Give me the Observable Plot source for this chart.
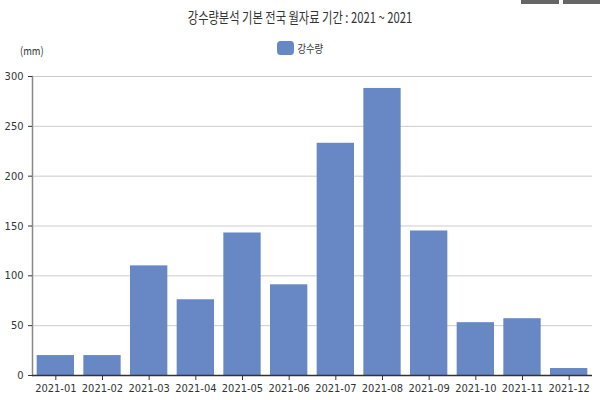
<!DOCTYPE html>
<html><head><meta charset="utf-8">
<script src="https://cdn.jsdelivr.net/npm/d3@7"></script>
<script src="https://cdn.jsdelivr.net/npm/@observablehq/plot@0.6"></script>
<style>
body{margin:0;background:#fff;}
#wrap{position:relative;width:600px;height:400px;overflow:hidden;font-family:"Noto Sans CJK KR",sans-serif;}
#title{position:absolute;top:6px;left:0;width:600px;text-align:center;font-size:15px;color:#333;transform:scaleX(0.75);}
#legend{position:absolute;top:40px;left:277px;font-size:11px;color:#333;display:flex;align-items:center;transform:scaleX(0.85);transform-origin:left;}
#legend span.sw{display:inline-block;width:20px;height:14px;border-radius:4px;background:#6788c4;margin-right:4px;}
#unit{position:absolute;top:42px;left:20px;font-size:11px;color:#333;transform:scaleX(0.85);transform-origin:left;}
.btn{position:absolute;top:-2px;height:6px;background:#666;}
</style></head>
<body><div id="wrap">
<div id="title">강수량분석 기본 전국 월자료 기간 : 2021 ~ 2021</div>
<div id="legend"><span class="sw"></span>강수량</div>
<div id="unit">(mm)</div>
<div class="btn" style="left:521px;width:38px"></div>
<div class="btn" style="left:563px;width:40px"></div>
</div>
<script>
const months = ["2021-01","2021-02","2021-03","2021-04","2021-05","2021-06","2021-07","2021-08","2021-09","2021-10","2021-11","2021-12"];
const rainfall = [20, 20, 110, 76, 143, 91, 233, 288, 145, 53, 57, 7];
const yTicks = [0, 50, 100, 150, 200, 250, 300];
const data = months.map((m, i) => ({month: m, value: rainfall[i]}));

const chart = Plot.plot({
  width: 600, height: 400,
  marginLeft: 32, marginRight: 8, marginTop: 76, marginBottom: 25,
  style: {fontFamily: '"Liberation Sans Narrow","DejaVu Sans Condensed",sans-serif', fontSize: "11px", color: "#333", background: "transparent"},
  x: {domain: months, paddingInner: 0.2, paddingOuter: 0.1, round: false, label: null, tickSize: 5},
  y: {domain: [0, 300], ticks: yTicks, label: null, tickSize: 4, tickPadding: 2},
  marks: [
    Plot.gridY(yTicks.filter(d => d > 0), {stroke: "#ccc", strokeOpacity: 1}),
    Plot.barY(data, {x: "month", y: "value", fill: "#6788c4"}),
    Plot.frame({anchor: "left", stroke: "#888", strokeWidth: 1.5}),
    Plot.ruleY([0], {stroke: "#333", strokeWidth: 1.5}),
    Plot.axisX({tickSize: 5, stroke: "#333"}),
    Plot.axisY({ticks: yTicks, tickSize: 4, stroke: "#333"})
  ]
});
chart.style.position = "absolute";
chart.style.top = "0";
chart.style.left = "0";
document.getElementById("wrap").prepend(chart);
</script>
</body></html>
